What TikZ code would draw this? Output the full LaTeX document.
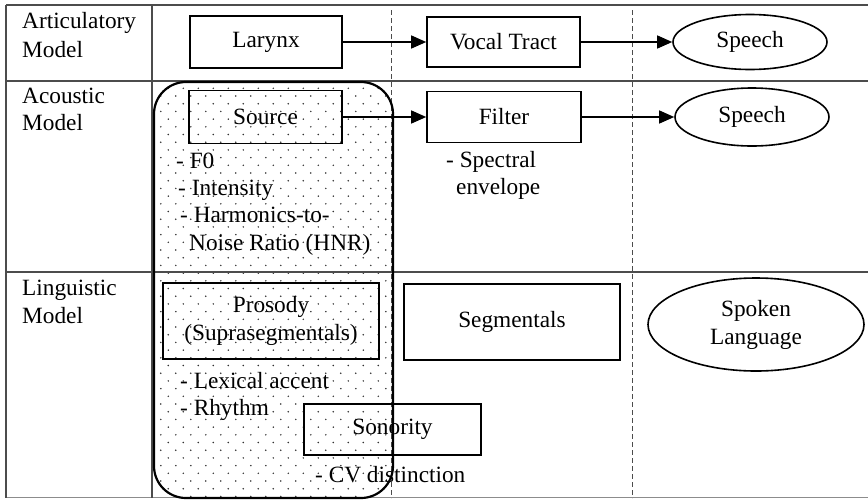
\documentclass[tikz,border=0pt]{standalone}
\usepackage{fontspec}
\setmainfont{Liberation Serif}
\usetikzlibrary{arrows.meta,shapes.geometric}

\tikzset{
  grid line/.style={draw=black!70, line width=1.1pt},
  divider/.style={draw=black!70, line width=1pt, dash pattern=on 5pt off 3pt},
  stagebox/.style={draw, line width=1.6pt, rectangle, inner sep=0pt, align=center},
  outcome/.style={draw, line width=1.6pt, ellipse, inner sep=0pt, align=center},
  flow/.style={line width=1.3pt, -{Triangle[length=15pt,width=13pt]}},
  lbl/.style={anchor=base west, inner sep=0pt},
  dotted region/.style={line width=2.2pt, rounded corners=32pt},
}

\begin{document}
\begin{tikzpicture}[x=1pt, y=-1pt, font=\fontsize{23.3}{28}\selectfont]
\useasboundingbox (0,0) rectangle (868,499);

% dotted texture inside the rounded source/prosody region
\begin{scope}
  \clip[rounded corners=32pt] (154,82) rectangle (393,498);
  \foreach \r in {-1,...,54} {
    \foreach \c in {-2,...,16} {
      \fill[black!80] ({168.3+15*\c+7.5*mod(\r+2,2)}, {88.3+7.7*\r}) circle (0.85pt);
    }
  }
\end{scope}

% table rules
\draw[grid line] (6,5) -- (868,5);
\draw[grid line] (6,81) -- (868,81);
\draw[grid line] (6,272) -- (868,272);
\draw[grid line, draw=black!45] (6,497.5) -- (868,497.5);
\draw[grid line] (6,5) -- (6,497.5);
\draw[grid line] (152,5) -- (152,497.5);

% dashed column dividers
\draw[divider] (391,10) -- (391,498);
\draw[divider] (632,10) -- (632,498);

% rounded region outline
\draw[dotted region] (154,82) rectangle (393,498);

% row labels
\node[lbl] (art1) at (22,28) {Articulatory};
\node[lbl] (art2) at (22,57) {Model};
\node[lbl] (aco1) at (22,103) {Acoustic};
\node[lbl] (aco2) at (22,130) {Model};
\node[lbl] (lin1) at (22,295) {Linguistic};
\node[lbl] (lin2) at (22,323) {Model};

% articulatory row
\node[stagebox, minimum width=152pt, minimum height=52pt] (lar) at (266,42) {Larynx};
\node[stagebox, minimum width=153pt, minimum height=50pt] (vt) at (503.5,42) {Vocal Tract};
\node[outcome, minimum width=154pt, minimum height=55pt] (sp1) at (750,42) {Speech};
\draw[flow] (lar.east) -- (vt.west);
\draw[flow] (vt.east) -- (sp1.west);

% acoustic row
\node[stagebox, minimum width=153pt, minimum height=53pt] (src) at (265.5,117) {Source};
\node[stagebox, minimum width=154pt, minimum height=51pt] (flt) at (504,117) {Filter};
\node[outcome, minimum width=154pt, minimum height=58pt] (sp2) at (752,117) {Speech};
\draw[flow] (src.east) -- (flt.west);
\draw[flow] (flt.east) -- (sp2.west);

\node[lbl] (f0) at (176,168) {- F0};
\node[lbl] (int) at (178,195) {- Intensity};
\node[lbl] (hnr1) at (180,222) {- Harmonics-to-};
\node[lbl] (hnr2) at (189,250) {Noise Ratio (HNR)};
\node[lbl] (spe1) at (446,167) {- Spectral};
\node[lbl] (spe2) at (456,194) {envelope};

% linguistic row
\node[stagebox, minimum width=216pt, minimum height=76pt] (pros) at (271,321) {Prosody\\(Suprasegmentals)};
\node[stagebox, minimum width=216pt, minimum height=76pt] (seg) at (512,322) {Segmentals};
\node[outcome, minimum width=216pt, minimum height=93pt] (spl) at (756,324.5) {Spoken\\Language};
\node[stagebox, minimum width=177pt, minimum height=51pt] (son) at (392.5,429.5) {Sonority};

\node[lbl] (lex) at (180,388) {- Lexical accent};
\node[lbl] (rhy) at (180,415) {- Rhythm};
\node[lbl] (cv) at (315,482) {- CV distinction};
\end{tikzpicture}
\end{document}
